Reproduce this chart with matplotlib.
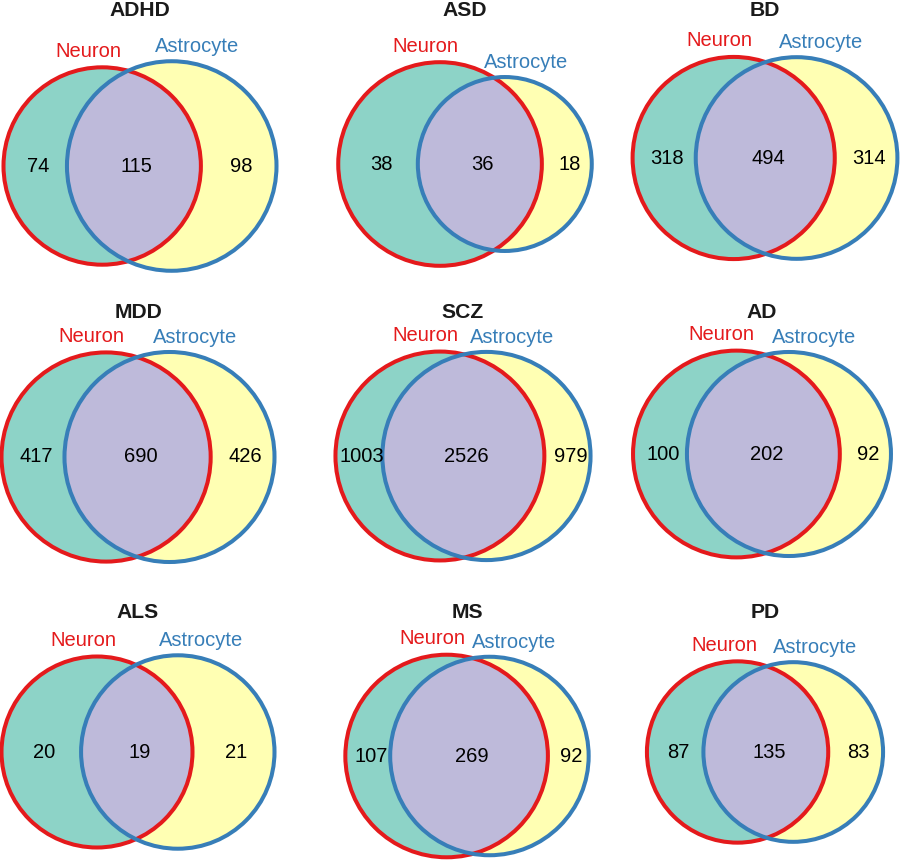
import numpy as np
import matplotlib
matplotlib.use('Agg')
import matplotlib.pyplot as plt
from matplotlib.patches import Circle

plt.rcParams['font.family'] = ['Liberation Sans', 'DejaVu Sans']

# gene counts per disease: neuron only / shared / astrocyte only
diseases = ['ADHD', 'ASD', 'BD', 'MDD', 'SCZ', 'AD', 'ALS', 'MS', 'PD']
neuron_only = [74, 38, 318, 417, 1003, 100, 20, 107, 87]
shared = [115, 36, 494, 690, 2526, 202, 19, 269, 135]
astro_only = [98, 18, 314, 426, 979, 92, 21, 92, 83]
set_labels = ['Neuron', 'Astrocyte']

# layout (pixels)
W, H = 900, 865
panel_x = [140, 465, 765, 138, 463, 762, 138, 467, 765]
panel_y = [166, 164, 158, 457, 456, 454, 752, 756, 752]
title_y = [11, 313, 613]
box_w, box_h = 273, 211
panel_scale = [1.0, 0.965, 0.97, 1.0, 0.99, 0.98, 1.0, 0.96, 0.865]

teal, yellow, purple = '#8dd3c7', '#ffffb3', '#bebada'
red, blue = '#e41a1c', '#377eb8'


def lens_area(r1, r2, d):
    if d >= r1 + r2:
        return 0.0
    if d <= abs(r1 - r2):
        return np.pi * min(r1, r2) ** 2
    a1 = r1 ** 2 * np.arccos((d * d + r1 * r1 - r2 * r2) / (2 * d * r1))
    a2 = r2 ** 2 * np.arccos((d * d + r2 * r2 - r1 * r1) / (2 * d * r2))
    k = 0.5 * np.sqrt((-d + r1 + r2) * (d + r1 - r2) * (d - r1 + r2) * (d + r1 + r2))
    return a1 + a2 - k


def solve_dist(r1, r2, area):
    lo, hi = abs(r1 - r2) + 1e-9, r1 + r2
    for _ in range(100):
        mid = (lo + hi) / 2
        if lens_area(r1, r2, mid) > area:
            lo = mid
        else:
            hi = mid
    return (lo + hi) / 2


fig = plt.figure(figsize=(W / 100, H / 100), dpi=100)

for i, name in enumerate(diseases):
    row = i // 3
    n1 = neuron_only[i] + shared[i]
    n2 = astro_only[i] + shared[i]
    r1 = np.sqrt(n1 / np.pi)
    r2 = np.sqrt(n2 / np.pi)
    d = solve_dist(r1, r2, shared[i])

    x0, x1 = -r1, d + r2
    rmax = max(r1, r2)
    s = min(box_w / (x1 - x0), box_h / (2 * rmax)) * panel_scale[i]  # px per unit
    xc = (x0 + x1) / 2

    cx, cy = panel_x[i], panel_y[i]
    ax = fig.add_axes([(cx - 150) / W, 1 - (cy + 145) / H, 300 / W, 290 / H])
    ax.set_xlim(xc - 150 / s, xc + 150 / s)
    ax.set_ylim(-145 / s, 145 / s)
    ax.axis('off')

    c1 = Circle((0, 0), r1, fc=teal, ec='none', zorder=1)
    ax.add_patch(c1)
    ax.add_patch(Circle((d, 0), r2, fc=yellow, ec='none', zorder=1))
    lens = Circle((d, 0), r2, fc=purple, ec='none', zorder=2)
    ax.add_patch(lens)
    lens.set_clip_path(c1)
    ax.add_patch(Circle((0, 0), r1, fill=False, ec=red, lw=2.9, zorder=3))
    ax.add_patch(Circle((d, 0), r2, fill=False, ec=blue, lw=2.9, zorder=4))

    # region counts
    shift = 3 / s
    left_x = (-r1 + d - r2) / 2 + shift
    mid_x = (d - r2 + r1) / 2 + shift
    right_x = (r1 + d + r2) / 2 + shift
    for xx, val in zip([left_x, mid_x, right_x], [neuron_only[i], shared[i], astro_only[i]]):
        ax.text(xx, 0, str(val), ha='center', va='center', fontsize=14.5,
                color='black', zorder=5)

    # set labels above circles
    g = 17 / s
    for (ox, rr, ang, lab, colr) in [(0, r1, -7, set_labels[0], red),
                                      (d, r2, 12, set_labels[1], blue)]:
        t = np.radians(ang)
        ax.text(ox + (rr + g) * np.sin(t), (rr + g) * np.cos(t), lab,
                ha='center', va='center', fontsize=14.5, color=colr, zorder=5)

    fig.text(cx / W, 1 - title_y[row] / H, name, ha='center', va='center',
             fontsize=15.2, fontweight='bold', color='#1a1a1a')

fig.savefig('out.png', dpi=100, facecolor='white')
